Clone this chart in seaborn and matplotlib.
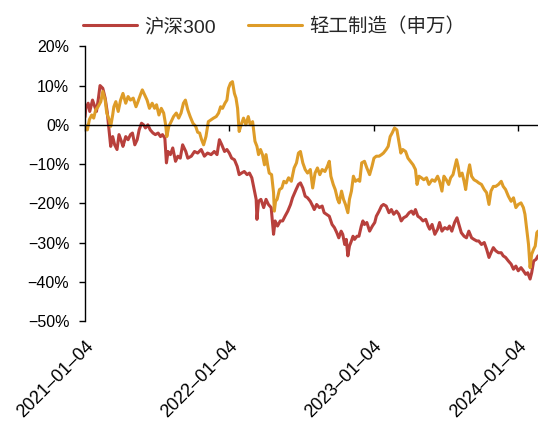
import pandas as pd
import matplotlib
matplotlib.use("Agg")
import matplotlib.pyplot as plt
import matplotlib.dates as mdates
from matplotlib.ticker import PercentFormatter
import seaborn as sns

# Cumulative return (%) since 2021-01-04, sampled by calendar-day offset
start_date = "2021-01-04"

hs300_days = [
    0, 2, 8, 12, 19, 25, 29, 34, 38, 45, 51, 56, 61, 65, 70, 75, 81, 86, 92, 96,
    103, 109, 115, 120, 126, 132, 137, 143, 148, 153, 159, 165, 172, 178, 185, 191,
    196, 202, 206, 210, 216, 222, 229, 235, 241, 247, 255, 260, 269, 277, 285, 294,
    302, 310, 319, 327, 334, 340, 346, 353, 359, 365, 371, 378, 385, 390, 396, 403,
    410, 416, 422, 428, 433, 435, 439, 445, 452, 458, 464, 471, 477, 481, 487, 494,
    500, 506, 513, 520, 525, 534, 540, 545, 551, 557, 563, 570, 576, 580, 586, 593,
    600, 605, 611, 618, 625, 631, 637, 642, 648, 652, 657, 661, 665, 669, 674, 678,
    682, 688, 693, 699, 703, 707, 713, 720, 727, 733, 737, 744, 750, 755, 762, 769,
    775, 781, 788, 794, 800, 806, 813, 820, 826, 831, 836, 842, 848, 855, 862, 868,
    872, 878, 885, 892, 897, 903, 910, 917, 922, 928, 935, 941, 946, 952, 959, 965,
    971, 978, 984, 991, 996, 1003, 1010, 1016, 1022, 1027, 1033, 1039, 1046, 1053,
    1058, 1064, 1071, 1078, 1084, 1090, 1096, 1103, 1109, 1115, 1120, 1126, 1130,
    1135, 1141, 1146,
]
hs300_pct = [
    2.0, 4.2, 5.5, 3.4, 6.3, 4.6, 3.4, 6.8, 10.0, 9.3, 6.8, 3.4, -1.7, -5.5, -3.0,
    -5.1, -6.3, -2.5, -4.2, -5.5, -3.0, -3.8, -2.5, -2.1, -5.1, -3.8, -1.3, 0.4, 0.0,
    -0.8, 0.0, -1.3, -2.1, -2.5, -2.1, -3.0, -2.5, -3.4, -9.7, -6.8, -7.6, -5.9,
    -9.3, -8.0, -8.5, -5.1, -6.8, -8.5, -8.0, -6.8, -7.2, -6.3, -8.0, -7.2, -7.6,
    -6.8, -7.6, -3.8, -5.1, -6.8, -6.3, -7.2, -8.5, -8.9, -10.6, -12.7, -12.3,
    -11.9, -12.7, -12.3, -13.5, -16.5, -19.0, -24.1, -19.5, -19.0, -21.1, -19.0,
    -20.3, -21.1, -27.9, -24.5, -25.8, -24.5, -24.5, -23.3, -22.0, -20.3, -18.6,
    -16.5, -15.2, -14.8, -16.1, -18.2, -18.6, -19.5, -20.7, -21.6, -20.3, -21.1,
    -20.7, -22.4, -22.8, -23.3, -25.4, -26.2, -27.5, -28.8, -27.1, -27.9, -30.5,
    -29.2, -33.4, -30.9, -29.6, -28.4, -29.2, -28.4, -28.4, -25.8, -24.5, -25.4,
    -24.9, -27.1, -25.8, -24.9, -23.3, -22.0, -20.7, -20.3, -20.7, -22.4, -21.6,
    -22.8, -22.0, -22.8, -24.5, -23.7, -23.3, -22.4, -22.0, -22.8, -21.6, -23.3,
    -23.7, -24.5, -24.1, -25.8, -26.6, -25.4, -27.9, -26.6, -24.9, -27.1, -26.2,
    -26.6, -25.8, -27.1, -24.9, -23.7, -25.4, -27.5, -28.4, -28.8, -27.1, -28.8,
    -29.2, -29.6, -29.6, -30.5, -30.0, -31.7, -33.8, -32.6, -31.3, -32.1, -32.6,
    -32.6, -33.4, -33.8, -34.7, -35.5, -36.8, -36.0, -37.2, -36.4, -37.2, -38.1,
    -37.7, -39.3, -37.7, -34.7, -34.3, -33.4,
]

light_days = [
    0, 6, 11, 17, 22, 27, 33, 40, 45, 51, 55, 61, 65, 70, 73, 78, 84, 90, 96,
    103, 109, 115, 122, 129, 134, 140, 145, 151, 157, 163, 170, 176, 181, 187, 193,
    199, 204, 207, 212, 218, 224, 231, 237, 243, 249, 254, 260, 266, 273, 280, 285,
    290, 295, 300, 306, 312, 319, 325, 332, 338, 343, 348, 354, 359, 363, 368, 373,
    378, 382, 386, 390, 395, 401, 407, 413, 418, 424, 430, 435, 439, 444, 449, 454,
    458, 462, 466, 472, 477, 479, 482, 486, 492, 498, 503, 509, 515, 522, 529, 535,
    540, 545, 551, 557, 563, 570, 576, 582, 588, 594, 600, 607, 613, 618, 622, 628,
    633, 639, 643, 649, 654, 659, 665, 669, 674, 679, 684, 690, 695, 700, 707, 713,
    720, 726, 731, 737, 744, 750, 755, 762, 767, 772, 777, 783, 789, 794, 799, 804,
    811, 817, 823, 830, 836, 840, 845, 851, 857, 864, 870, 878, 885, 892, 897, 903,
    908, 914, 920, 925, 931, 935, 940, 944, 948, 954, 959, 963, 968, 973, 978, 984,
    991, 996, 1003, 1010, 1016, 1022, 1027, 1033, 1039, 1046, 1053, 1058, 1064,
    1071, 1078, 1084, 1090, 1096, 1103, 1109, 1113, 1117, 1122, 1126, 1130, 1135,
    1139, 1143, 1146,
]
light_pct = [
    0.0, -1.3, 1.3, 2.5, 1.7, 3.8, 4.6, 5.9, 8.5, 6.3, 3.0, 1.3, -0.4, 2.5,
    4.6, 5.9, 3.4, 6.3, 8.0, 5.5, 7.2, 6.3, 6.8, 4.6, 5.9, 7.6, 8.9, 7.6, 6.3, 4.2,
    5.5, 4.2, 5.1, 2.5, 4.2, 3.0, 0.0, -3.0, -0.4, 0.8, 2.1, 3.0, 1.7, 3.0, 5.5,
    6.3, 3.8, 2.1, 0.4, -0.4, -1.9, -2.1, -3.8, -5.1, -3.0, 0.8, 1.3, 1.7, 2.1, 3.0,
    4.6, 4.2, 5.5, 6.3, 9.3, 10.6, 11.0, 8.0, 6.8, 4.2, -1.7, 0.0, 1.7, 0.0, 2.1,
    0.0, 0.8, -4.2, -5.5, -7.6, -6.3, -7.6, -10.2, -7.6, -10.2, -12.3, -12.7, -17.3,
    -22.0, -19.5, -19.0, -16.5, -16.1, -14.4, -14.8, -13.5, -14.4, -11.0, -9.7,
    -7.2, -6.8, -9.7, -11.4, -12.3, -11.4, -16.1, -12.3, -11.0, -12.7, -11.4, -11.9,
    -10.6, -9.3, -13.1, -15.2, -16.5, -19.0, -19.9, -16.9, -19.0, -20.3, -22.4,
    -19.0, -16.9, -13.1, -14.4, -14.0, -14.4, -9.7, -9.3, -11.0, -12.7, -10.6, -8.5,
    -8.0, -8.0, -7.6, -7.2, -6.3, -5.5, -3.0, -2.1, -0.8, -1.3, -4.2, -7.2, -6.3,
    -6.8, -8.5, -9.3, -10.2, -11.4, -15.2, -13.1, -13.5, -14.0, -13.5, -15.2, -14.0,
    -14.4, -13.1, -14.4, -16.9, -13.1, -14.0, -15.2, -13.5, -12.7, -11.0, -8.9,
    -10.6, -13.1, -12.3, -14.4, -16.5, -12.7, -10.2, -13.1, -14.0, -14.4, -14.8,
    -15.2, -16.5, -17.3, -20.3, -16.9, -15.7, -15.7, -15.2, -14.4, -15.7, -16.5,
    -18.2, -19.5, -18.6, -21.1, -20.3, -19.9, -21.1, -22.8, -26.2, -30.5, -36.4,
    -33.0, -31.7, -30.9, -27.5, -27.1,
]

series_names = ["沪深300", "轻工制造（申万）"]
series_colors = ["#B8403C", "#DE9C28"]
tick_dates = ["2021-01-04", "2022-01-04", "2023-01-04", "2024-01-04"]
y_ticks = [20, 10, 0, -10, -20, -30, -40, -50]

sns.set_style("ticks")
plt.rcParams["font.family"] = ["Liberation Sans", "Noto Sans CJK SC"]
plt.rcParams["axes.unicode_minus"] = True


def to_frame(days, pct, name):
    dates = pd.Timestamp(start_date) + pd.to_timedelta(days, unit="D")
    return pd.DataFrame({"x": mdates.date2num(dates), "pct": pct, "series": name})


df = pd.concat(
    [
        to_frame(hs300_days, hs300_pct, series_names[0]),
        to_frame(light_days, light_pct, series_names[1]),
    ],
    ignore_index=True,
)

fig = plt.figure(figsize=(5.38, 4.21), dpi=100)
ax = fig.add_axes([0.158, 0.2375, 0.842, 0.6525])

sns.lineplot(
    data=df, x="x", y="pct", hue="series", hue_order=series_names,
    palette=series_colors, estimator=None, sort=False, linewidth=2.2, ax=ax,
)

# y axis: percent ticks on the left spine
ax.set_ylim(-50, 20)
ax.set_yticks(y_ticks)
ax.yaxis.set_major_formatter(PercentFormatter(decimals=0))
ax.tick_params(axis="y", direction="out", length=4.3, width=1, color="black",
               labelsize=11.5, pad=7, labelcolor="black")

# x axis: spine sits on the zero line, ticks hang from it
tick_ts = pd.to_datetime(tick_dates)
tick_nums = mdates.date2num(tick_ts)
x_end = mdates.date2num(pd.Timestamp(start_date) + pd.Timedelta(days=max(hs300_days)))
ax.set_xlim(tick_nums[0], x_end)
ax.set_xticks(tick_nums)
ax.tick_params(axis="x", direction="out", length=4.3, width=1, color="black",
               labelbottom=False)
ax.spines["bottom"].set_position(("data", 0))
for side in ("top", "right"):
    ax.spines[side].set_visible(False)
for side in ("left", "bottom"):
    ax.spines[side].set_color("black")
    ax.spines[side].set_linewidth(1.0)
ax.set_xlabel("")
ax.set_ylabel("")

# date labels along the bottom edge
sec = ax.secondary_xaxis("bottom")
sec.set_xticks(tick_nums)
sec.set_xticklabels([t.strftime("%Y–%m–%d") for t in tick_ts], rotation=45,
                    ha="right", rotation_mode="anchor", fontsize=13, color="black")
sec.tick_params(axis="x", length=0, pad=12)
sec.spines["bottom"].set_visible(False)

handles, labels = ax.get_legend_handles_labels()
ax.legend_.remove()
fig.legend(handles, labels, loc="upper center", bbox_to_anchor=(0.51, 1.0),
           ncol=2, frameon=False, handlelength=2.75, columnspacing=1.65,
           handletextpad=0.4, fontsize=14)

fig.savefig("out.png", dpi=100, facecolor="white")
